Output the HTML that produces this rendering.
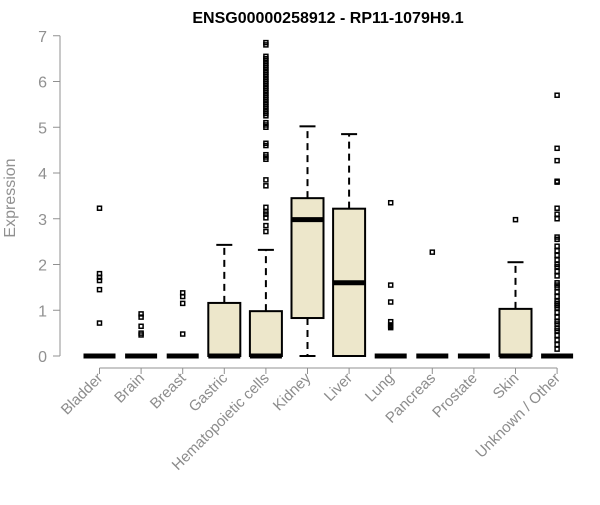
<!DOCTYPE html>
<html><head><meta charset="utf-8"><style>
body{margin:0;background:#fff;}
svg text{font-family:"Liberation Sans",Arial,sans-serif;}
</style></head><body>
<svg id="chart" width="600" height="500">
<text x="328" y="23" text-anchor="middle" font-size="16" font-weight="bold">ENSG00000258912 - RP11-1079H9.1</text>
<text transform="translate(15,198) rotate(-90)" text-anchor="middle" font-size="16" fill="#909090">Expression</text>
<g id="axes"></g><g id="plot"></g>
</svg>
<script>
const categories=["Bladder","Brain","Breast","Gastric","Hematopoietic cells","Kidney","Liver","Lung","Pancreas","Prostate","Skin","Unknown / Other"];
const lowWhisker=[0,0,0,0,0,0,0,0,0,0,0,0];
const q1=[0,0,0,0,0,0.83,0,0,0,0,0,0];
const median=[0,0,0,0,0,2.98,1.6,0,0,0,0,0];
const q3=[0,0,0,1.16,0.98,3.45,3.22,0,0,0,1.03,0];
const highWhisker=[0,0,0,2.43,2.32,5.02,4.85,0,0,0,2.05,0];
const outliers=[
[3.23,1.8,1.72,1.65,1.45,0.72],
[0.92,0.85,0.65,0.5,0.46],
[1.38,1.3,1.15,0.48],
[],
[6.85,6.8,6.55,6.5,6.45,6.4,6.35,6.3,6.25,6.2,6.15,6.1,6.05,6.0,5.95,5.9,5.85,5.8,5.75,5.7,5.65,5.6,5.55,5.5,5.45,5.4,5.35,5.3,5.25,5.1,5.05,5.0,4.65,4.6,4.4,4.35,4.3,3.85,3.72,3.25,3.15,3.1,3.02,2.85,2.72],
[],[],
[3.35,1.55,1.18,0.75,0.68,0.65,0.62],
[2.27],[],
[2.98],
[5.7,4.54,4.27,3.82,3.8,3.23,3.1,3.0,2.6,2.55,2.4,2.3,2.2,2.1,2.0,1.95,1.85,1.75,1.6,1.55,1.5,1.4,1.3,1.2,1.15,1.1,1.05,0.95,0.85,0.75,0.7,0.6,0.55,0.45,0.35,0.25,0.15]
];
const yTicks=[0,1,2,3,4,5,6,7];
const NS="http://www.w3.org/2000/svg";
const y=v=>356-45.75*v;
const x=i=>99.5+41.6*i;
const ax=document.getElementById('axes'),pl=document.getElementById('plot');
function mk(p,tag,attrs){const e=document.createElementNS(NS,tag);for(const k in attrs)e.setAttribute(k,attrs[k]);p.appendChild(e);return e;}
let e=mk(ax,'line',{x1:60,x2:60,y1:y(0),y2:y(7),stroke:'#909090'});


yTicks.forEach(t=>{
 mk(ax,'line',{x1:53,x2:60,y1:y(t),y2:y(t),stroke:'#909090'});
 const tx=mk(ax,'text',{x:47,y:y(t)+6,'text-anchor':'end','font-size':16,fill:'#909090'});
 tx.textContent=t;
 
 
});
e=mk(ax,'line',{x1:x(0),x2:x(11),y1:368,y2:368,stroke:'#909090'});


categories.forEach((c,i)=>{
 const cx=x(i),hw=16;
 mk(ax,'line',{x1:cx,x2:cx,y1:368,y2:374,stroke:'#909090'});
 const tx=mk(ax,'text',{transform:`translate(${cx+4},${379}) rotate(-45)`,'text-anchor':'end','font-size':15,fill:'#8c8c8c'});
 tx.textContent=c;
 
 
 const g=mk(pl,'g',{});
 
 
 if(highWhisker[i]>q3[i]){
  mk(g,'line',{x1:cx,x2:cx,y1:y(q3[i]),y2:y(highWhisker[i]),stroke:'#000','stroke-width':2,'stroke-dasharray':'7,5'});
  mk(g,'line',{x1:cx-8,x2:cx+8,y1:y(highWhisker[i]),y2:y(highWhisker[i]),stroke:'#000','stroke-width':2});
 }
 if(lowWhisker[i]<q1[i]){
  mk(g,'line',{x1:cx,x2:cx,y1:y(q1[i]),y2:y(lowWhisker[i]),stroke:'#000','stroke-width':2,'stroke-dasharray':'7,5'});
  mk(g,'line',{x1:cx-8,x2:cx+8,y1:y(lowWhisker[i]),y2:y(lowWhisker[i]),stroke:'#000','stroke-width':2});
 }
 if(q3[i]>q1[i]) mk(g,'rect',{x:cx-hw,y:y(q3[i]),width:hw*2,height:y(q1[i])-y(q3[i]),fill:'#ede7cb',stroke:'#000','stroke-width':2});
 mk(g,'line',{x1:cx-hw,x2:cx+hw,y1:y(median[i]),y2:y(median[i]),stroke:'#000','stroke-width':5});
 outliers[i].forEach(v=>{
  const r=mk(g,'rect',{x:cx-2,y:y(v)-2,width:4,height:4,fill:'none',stroke:'#000','stroke-width':1.5});
  
  
 });
});
</script>
</body></html>
